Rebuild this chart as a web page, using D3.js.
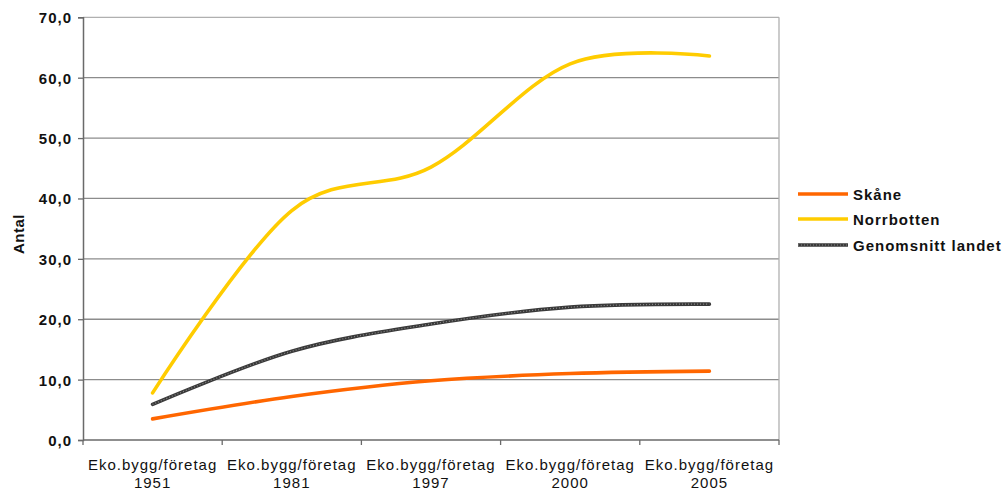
<!DOCTYPE html>
<html>
<head>
<meta charset="utf-8">
<script src="https://cdn.jsdelivr.net/npm/d3@7"></script>
<style>
  html, body { margin: 0; padding: 0; background: #fff; }
  svg { display: block; font-family: "Liberation Sans", Arial, sans-serif; }
</style>
</head>
<body>
<svg id="chart" width="1008" height="492"></svg>
<script>
// Categories along the x axis (two-line labels)
const categories = [
  ["Eko.bygg/företag", "1951"],
  ["Eko.bygg/företag", "1981"],
  ["Eko.bygg/företag", "1997"],
  ["Eko.bygg/företag", "2000"],
  ["Eko.bygg/företag", "2005"]
];

// Series values
const skane = [3.5, 7.2, 9.8, 11.0, 11.4];
const norrbotten = [7.8, 38.0, 45.2, 62.3, 63.6];
const genomsnitt = [5.9, 14.7, 19.2, 22.0, 22.5];

const seriesNames = ["Skåne", "Norrbotten", "Genomsnitt landet"];
const seriesColors = ["#FF6600", "#FFCC00", "#3a3a3a"];

// Y axis ticks
const yTicks = [0, 10, 20, 30, 40, 50, 60, 70];
const yTitle = "Antal";

const series = [skane, norrbotten, genomsnitt].map((v, i) => ({
  name: seriesNames[i], color: seriesColors[i], values: v
}));

const svg = d3.select("#chart");
const m = { left: 83, right: 779, top: 17.3, bottom: 440 };

const x = d3.scaleBand()
  .domain(d3.range(categories.length))
  .range([m.left, m.right]);

const y = d3.scaleLinear().domain([0, 70]).range([m.bottom, m.top]);

// Horizontal gridlines
svg.append("g")
  .selectAll("line")
  .data(yTicks.slice(1))
  .join("line")
  .attr("x1", m.left).attr("x2", m.right)
  .attr("y1", d => y(d)).attr("y2", d => y(d))
  .attr("stroke", d => d === 70 ? "#b0b0b0" : "#8c8c8c")
  .attr("stroke-width", 1.3);

// Right frame edge
svg.append("line")
  .attr("x1", m.right).attr("x2", m.right)
  .attr("y1", m.top).attr("y2", m.bottom)
  .attr("stroke", "#b0b0b0").attr("stroke-width", 1.3);

// Y axis
const yAxis = d3.axisLeft(y)
  .tickValues(yTicks)
  .tickSize(5)
  .tickPadding(8)
  .tickFormat(d => d3.format(".1f")(d).replace(".", ","));

const gy = svg.append("g")
  .attr("transform", `translate(${m.left},0)`)
  .call(yAxis);
gy.select(".domain").attr("stroke", "#6a6a6a").attr("stroke-width", 1.5);
gy.selectAll(".tick line").attr("stroke", "#6a6a6a").attr("stroke-width", 1.3);
gy.selectAll(".tick text")
  .attr("font-size", 15).attr("font-weight", "bold")
  .attr("fill", "#111").attr("letter-spacing", "1px")
  .attr("x", -11).attr("dy", "0.36em");

// X axis with ticks at category boundaries
const gx = svg.append("g");
gx.append("line")
  .attr("x1", m.left).attr("x2", m.right)
  .attr("y1", m.bottom).attr("y2", m.bottom)
  .attr("stroke", "#6a6a6a").attr("stroke-width", 1.5);
const bounds = d3.range(categories.length + 1).map(i => m.left + i * x.bandwidth());
gx.selectAll("line.tick")
  .data(bounds)
  .join("line")
  .attr("class", "tick")
  .attr("x1", d => d).attr("x2", d => d)
  .attr("y1", m.bottom).attr("y2", m.bottom + 5)
  .attr("stroke", "#6a6a6a").attr("stroke-width", 1.3);

const labels = gx.selectAll("text.cat")
  .data(categories)
  .join("text")
  .attr("class", "cat")
  .attr("text-anchor", "middle")
  .attr("font-size", 15)
  .attr("letter-spacing", "1px")
  .attr("fill", "#111");
labels.append("tspan")
  .attr("x", (d, i) => x(i) + x.bandwidth() / 2)
  .attr("y", 470)
  .text(d => d[0]);
labels.append("tspan")
  .attr("x", (d, i) => x(i) + x.bandwidth() / 2)
  .attr("y", 488)
  .text(d => d[1]);

// Y axis title
svg.append("text")
  .attr("transform", "translate(24,234) rotate(-90)")
  .attr("text-anchor", "middle")
  .attr("font-size", 15).attr("font-weight", "bold")
  .attr("letter-spacing", "0.5px")
  .attr("fill", "#111")
  .text(yTitle);

// Smoothed series lines
const line = d3.line()
  .x((d, i) => x(i) + x.bandwidth() / 2)
  .y(d => y(d))
  .curve(d3.curveCardinal.tension(0));

const gl = svg.append("g");
series.forEach((s, idx) => {
  gl.append("path")
    .attr("d", line(s.values))
    .attr("fill", "none")
    .attr("stroke", s.color)
    .attr("stroke-width", 3.6)
    .attr("stroke-linejoin", "round")
    .attr("stroke-linecap", "round");
  if (idx === 2) {
    // light hatching on the average line
    gl.append("path")
      .attr("d", line(s.values))
      .attr("fill", "none")
      .attr("stroke", "#8a8a8a")
      .attr("stroke-width", 1.2)
      .attr("stroke-dasharray", "1,2");
  }
});

// Legend
const legend = svg.append("g");
const legendY = [194, 219, 245];
series.forEach((s, i) => {
  legend.append("line")
    .attr("x1", 798).attr("x2", 848)
    .attr("y1", legendY[i]).attr("y2", legendY[i])
    .attr("stroke", s.color).attr("stroke-width", 3.6);
  if (i === 2) {
    legend.append("line")
      .attr("x1", 798).attr("x2", 848)
      .attr("y1", legendY[i]).attr("y2", legendY[i])
      .attr("stroke", "#8a8a8a").attr("stroke-width", 1.2)
      .attr("stroke-dasharray", "1,2");
  }
  legend.append("text")
    .attr("x", 853).attr("y", legendY[i] + 5.5)
    .attr("font-size", 15).attr("font-weight", "bold")
    .attr("letter-spacing", "1px")
    .attr("fill", "#111")
    .text(s.name);
});
</script>
</body>
</html>
